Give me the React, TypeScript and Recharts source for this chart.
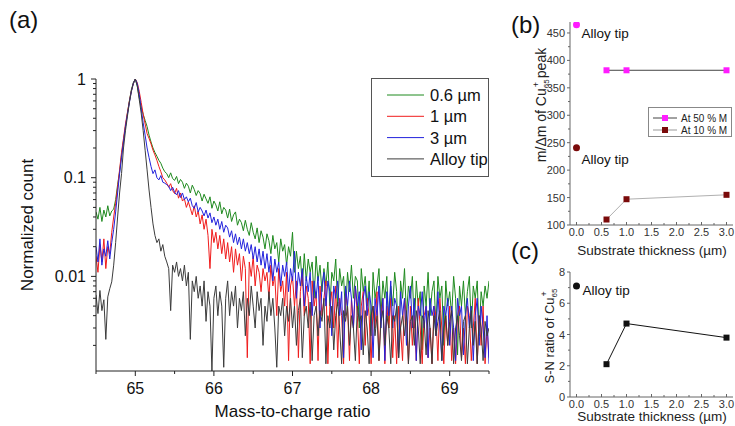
import { LineChart, Line, XAxis, YAxis, ComposedChart, Scatter } from "recharts";

const FONT = "'Liberation Sans', Arial, Helvetica, sans-serif";

// ---- panel (a): normalized mass spectra, sampled every 0.025 Da from 64.5 ----
const MZ_START = 64.5;
const MZ_STEP = 0.025;

const green06 = [
  0.045, 0.038, 0.05, 0.036, 0.047, 0.04, 0.052, 0.041, 0.046,
  0.048, 0.06, 0.085, 0.115, 0.17, 0.24, 0.33, 0.45, 0.6, 0.78, 0.92, 1.0,
  0.85, 0.65, 0.52, 0.44, 0.38, 0.33, 0.27, 0.23, 0.2, 0.18, 0.165, 0.15, 0.14, 0.125, 0.115, 0.11,
  0.1, 0.112, 0.098, 0.094, 0.103, 0.087, 0.096, 0.09, 0.078, 0.088,
  0.082, 0.07, 0.084, 0.076, 0.066, 0.074, 0.069, 0.058, 0.068, 0.061,
  0.055, 0.064, 0.049, 0.058, 0.053, 0.046, 0.057, 0.043, 0.05, 0.047,
  0.039, 0.048, 0.036, 0.042, 0.045, 0.033, 0.038, 0.035, 0.029, 0.037,
  0.03, 0.026, 0.035, 0.028, 0.024, 0.031, 0.022, 0.029, 0.025, 0.019,
  0.027, 0.023, 0.017, 0.026, 0.019, 0.022, 0.014, 0.024, 0.018, 0.021,
  0.013, 0.02, 0.016, 0.028, 0.011, 0.018, 0.012, 0.016, 0.008, 0.017,
  0.009, 0.015, 0.011, 0.014, 0.006, 0.016, 0.009, 0.013, 0.007, 0.012,
  0.008, 0.014, 0.005, 0.011, 0.009, 0.015, 0.005, 0.012, 0.008, 0.01,
  0.004, 0.011, 0.007, 0.013, 0.006, 0.01, 0.009, 0.003, 0.012, 0.007,
  0.01, 0.005, 0.009, 0.0025, 0.011, 0.006, 0.008, 0.012, 0.004, 0.009,
  0.006, 0.01, 0.003, 0.008, 0.005, 0.011, 0.007, 0.0015, 0.009, 0.006,
  0.012, 0.004, 0.008, 0.006, 0.01, 0.003, 0.009, 0.005, 0.007, 0.0018,
  0.008, 0.005, 0.011, 0.004, 0.007, 0.009, 0.003, 0.01, 0.006, 0.008,
  0.002, 0.009, 0.005, 0.007, 0.004, 0.01, 0.006, 0.0016, 0.008, 0.005,
  0.009, 0.004, 0.007, 0.01, 0.003, 0.008, 0.006, 0.009, 0.0025, 0.007,
  0.005, 0.008, 0.006, 0.009,
];

const red1 = [
  0.016, 0.011, 0.021, 0.014, 0.024, 0.012, 0.02, 0.017, 0.028,
  0.04, 0.055, 0.08, 0.12, 0.18, 0.25, 0.35, 0.46, 0.6, 0.76, 0.9, 1.0,
  0.92, 0.75, 0.58, 0.44, 0.35, 0.28, 0.25, 0.22, 0.19, 0.17, 0.15, 0.13, 0.115, 0.1, 0.095, 0.088,
  0.08, 0.087, 0.074, 0.069, 0.078, 0.062, 0.07, 0.058, 0.061, 0.05,
  0.057, 0.049, 0.042, 0.052, 0.04, 0.046, 0.034, 0.042, 0.03, 0.038,
  0.026, 0.012, 0.03, 0.022, 0.028, 0.019, 0.026, 0.017, 0.024, 0.015,
  0.022, 0.014, 0.02, 0.011, 0.019, 0.013, 0.017, 0.009, 0.016, 0.012,
  0.0015, 0.014, 0.01, 0.016, 0.008, 0.013, 0.011, 0.007, 0.012, 0.009,
  0.011, 0.006, 0.013, 0.008, 0.01, 0.004, 0.012, 0.007, 0.009, 0.005,
  0.011, 0.0014, 0.008, 0.01, 0.005, 0.009, 0.0015, 0.007, 0.011, 0.004,
  0.008, 0.006, 0.0013, 0.009, 0.005, 0.007, 0.0014, 0.008, 0.004, 0.006,
  0.009, 0.0013, 0.005, 0.007, 0.003, 0.008, 0.0015, 0.006, 0.004, 0.0013,
  0.007, 0.005, 0.0014, 0.006, 0.003, 0.008, 0.004, 0.0013, 0.005, 0.007,
  0.002, 0.006, 0.004, 0.0013, 0.005, 0.003, 0.007, 0.0014, 0.004, 0.006,
  0.0013, 0.005, 0.003, 0.006, 0.0015, 0.004, 0.0013, 0.005, 0.003, 0.0014,
  0.006, 0.004, 0.0013, 0.005, 0.002, 0.004, 0.0014, 0.006, 0.003, 0.0013,
  0.004, 0.005, 0.0015, 0.003, 0.0013, 0.005, 0.004, 0.0014, 0.006, 0.003,
  0.0013, 0.004, 0.002, 0.005, 0.0014, 0.003, 0.0013, 0.004, 0.005, 0.0015,
  0.003, 0.0013, 0.005, 0.004, 0.0014, 0.003, 0.006, 0.0013, 0.004, 0.002,
  0.005, 0.0013, 0.003, 0.0015,
];

const blue3 = [
  0.02, 0.014, 0.024, 0.013, 0.019, 0.016, 0.023, 0.015, 0.022,
  0.03, 0.045, 0.07, 0.11, 0.16, 0.23, 0.33, 0.44, 0.58, 0.75, 0.9, 1.0,
  0.9, 0.7, 0.5, 0.36, 0.27, 0.2, 0.16, 0.13, 0.11, 0.12, 0.1, 0.095, 0.105, 0.09, 0.088, 0.085,
  0.082, 0.074, 0.08, 0.071, 0.067, 0.074, 0.063, 0.07, 0.06, 0.064,
  0.057, 0.062, 0.052, 0.049, 0.056, 0.045, 0.05, 0.046, 0.041, 0.047,
  0.039, 0.044, 0.035, 0.04, 0.033, 0.038, 0.03, 0.036, 0.028, 0.033,
  0.031, 0.025, 0.029, 0.022, 0.027, 0.021, 0.025, 0.019, 0.024, 0.018,
  0.022, 0.017, 0.021, 0.015, 0.02, 0.014, 0.019, 0.013, 0.018, 0.012,
  0.017, 0.011, 0.016, 0.009, 0.015, 0.011, 0.014, 0.008, 0.013, 0.01,
  0.014, 0.007, 0.012, 0.009, 0.018, 0.006, 0.011, 0.008, 0.012, 0.005,
  0.01, 0.007, 0.011, 0.004, 0.009, 0.006, 0.01, 0.003, 0.008, 0.011,
  0.005, 0.009, 0.007, 0.0025, 0.008, 0.006, 0.009, 0.004, 0.007, 0.0015,
  0.008, 0.005, 0.009, 0.006, 0.003, 0.008, 0.005, 0.007, 0.0018, 0.006,
  0.008, 0.004, 0.007, 0.005, 0.0015, 0.006, 0.004, 0.008, 0.003, 0.006,
  0.0014, 0.007, 0.004, 0.009, 0.003, 0.006, 0.005, 0.0015, 0.007, 0.004,
  0.006, 0.002, 0.005, 0.008, 0.003, 0.006, 0.0014, 0.005, 0.004, 0.007,
  0.003, 0.005, 0.0015, 0.006, 0.004, 0.005, 0.0025, 0.007, 0.003, 0.0014,
  0.005, 0.004, 0.006, 0.002, 0.005, 0.003, 0.0014, 0.006, 0.004, 0.005,
  0.0016, 0.004, 0.006, 0.003, 0.005, 0.0014, 0.004, 0.006, 0.002, 0.005,
  0.003, 0.0015, 0.004, 0.0013,
];

const alloyTip = [
  0.0065, 0.0042, 0.0072, 0.0045, 0.0058, 0.0023, 0.0062, 0.0075, 0.0088, 0.013, 0.022,
  0.04, 0.07, 0.11, 0.2, 0.3, 0.42, 0.58, 0.75, 0.9, 1.0,
  0.85, 0.62, 0.45, 0.3, 0.19, 0.12, 0.075, 0.05, 0.034, 0.026,
  0.022, 0.024, 0.018, 0.021, 0.016, 0.014, 0.012, 0.0045, 0.013, 0.011,
  0.014, 0.01, 0.012, 0.009, 0.013, 0.008, 0.011, 0.0023, 0.009, 0.007,
  0.01, 0.006, 0.008, 0.005, 0.009, 0.0035, 0.007, 0.005, 0.0011, 0.006,
  0.008, 0.004, 0.007, 0.005, 0.0012, 0.006, 0.009, 0.004, 0.007, 0.005,
  0.008, 0.003, 0.006, 0.0045, 0.007, 0.0025, 0.006, 0.004, 0.008, 0.005,
  0.003, 0.007, 0.0045, 0.006, 0.002, 0.005, 0.0035, 0.007, 0.004, 0.006,
  0.003, 0.0012, 0.005, 0.004, 0.006, 0.0025, 0.005, 0.0035, 0.006, 0.003,
  0.005, 0.002, 0.0045, 0.006, 0.0015, 0.004, 0.005, 0.003, 0.0055, 0.0014,
  0.004, 0.005, 0.0025, 0.0045, 0.0035, 0.006, 0.0013, 0.004, 0.003, 0.005,
  0.0018, 0.004, 0.0055, 0.003, 0.0013, 0.0045, 0.0035, 0.005, 0.002, 0.004,
  0.003, 0.0014, 0.005, 0.0035, 0.004, 0.0016, 0.0045, 0.003, 0.0013, 0.004,
  0.005, 0.0025, 0.004, 0.0014, 0.0035, 0.0045, 0.002, 0.004, 0.003, 0.0013,
  0.004, 0.0035, 0.005, 0.0015, 0.003, 0.004, 0.0025, 0.0045, 0.0013, 0.0035,
  0.004, 0.002, 0.0045, 0.003, 0.0013, 0.004, 0.0035, 0.0016, 0.0045, 0.003,
  0.0013, 0.004, 0.0025, 0.0035, 0.0045, 0.0014, 0.003, 0.004, 0.002, 0.0035,
  0.0045, 0.0013, 0.003, 0.004, 0.0025, 0.0014, 0.0035, 0.004, 0.0013, 0.003,
  0.0045, 0.002, 0.0035, 0.0013, 0.004, 0.003, 0.0014, 0.0035, 0.0025, 0.003,
];

const mz = green06.map((_, i) => Math.round((MZ_START + i * MZ_STEP) * 1000) / 1000);
const spectra = mz.map((m, i) => ({ mz: m, g: green06[i], r: red1[i], b: blue3[i], k: alloyTip[i] }));

const SERIES = [
  { key: "g", name: "0.6 \u00b5m", color: "#1f8a1f" },
  { key: "r", name: "1 \u00b5m", color: "#f01c1c" },
  { key: "b", name: "3 \u00b5m", color: "#2222dc" },
  { key: "k", name: "Alloy tip", color: "#3c3c3c" },
];

const xTicksA = [64.5, 65, 65.5, 66, 66.5, 67, 67.5, 68, 68.5, 69, 69.5];
const yTicksA = [
  0.002, 0.003, 0.004, 0.005, 0.006, 0.007, 0.008, 0.009, 0.01,
  0.02, 0.03, 0.04, 0.05, 0.06, 0.07, 0.08, 0.09, 0.1,
  0.2, 0.3, 0.4, 0.5, 0.6, 0.7, 0.8, 0.9, 1,
];

// ---- panels (b) and (c) ----
const thickness = [0.6, 1.0, 3.0];
const res50 = [382, 382, 382];
const res10 = [110, 147, 155];
const alloyRes50 = 465;
const alloyRes10 = 241;
const snRatio = [2.1, 4.7, 3.8];
const alloySn = 7.1;

const xTicksBC = [0, 0.25, 0.5, 0.75, 1, 1.25, 1.5, 1.75, 2, 2.25, 2.5, 2.75, 3];
const yTicksB = [100, 125, 150, 175, 200, 225, 250, 275, 300, 325, 350, 375, 400, 425, 450];
const yTicksC = [0, 1, 2, 3, 4, 5, 6, 7, 8];

const MAGENTA = "#ff1cff";
const DARKRED = "#7a0a0a";

const res50Pts = thickness.map((x, i) => ({ x, y: res50[i] }));
const res10Pts = thickness.map((x, i) => ({ x, y: res10[i] }));
const snPts = thickness.map((x, i) => ({ x, y: snRatio[i] }));

function isDecade(v: number) {
  const lg = Math.log10(v);
  return Math.abs(lg - Math.round(lg)) < 1e-6;
}

function TickAX(props: any) {
  const { x, y, payload } = props;
  const v = payload.value;
  const major = Math.abs(v - Math.round(v)) < 1e-6;
  return (
    <g>
      <line x1={x} x2={x} y1={y} y2={y + (major ? 5 : 3)} stroke="#222" />
      {major && (
        <text x={x} y={y + 23} textAnchor="middle" fontSize={16} fontFamily={FONT} fill="#111">
          {v}
        </text>
      )}
    </g>
  );
}

function TickAY(props: any) {
  const { x, y, payload } = props;
  const v = payload.value;
  const major = isDecade(v);
  return (
    <g>
      <line x1={x - (major ? 5 : 3)} x2={x} y1={y} y2={y} stroke="#222" />
      {major && (
        <text x={x - 10} y={y + 5.5} textAnchor="end" fontSize={16} fontFamily={FONT} fill="#111">
          {String(v)}
        </text>
      )}
    </g>
  );
}

function TickSmallX(props: any) {
  const { x, y, payload } = props;
  const v = payload.value;
  const major = Math.abs(v * 2 - Math.round(v * 2)) < 1e-6;
  return (
    <g>
      <line x1={x} x2={x} y1={y} y2={y - (major ? 3 : 2)} stroke="#666" />
      {major && (
        <text x={x} y={y + 11} textAnchor="middle" fontSize={11} fontFamily={FONT} fill="#333">
          {v.toFixed(1)}
        </text>
      )}
    </g>
  );
}

function makeSmallYTick(step: number) {
  return function TickSmallY(props: any) {
    const { x, y, payload } = props;
    const v = payload.value;
    const major = v % step === 0;
    return (
      <g>
        <line x1={x - (major ? 3 : 2)} x2={x} y1={y} y2={y} stroke="#666" />
        {major && (
          <text x={x - 5} y={y + 4} textAnchor="end" fontSize={11} fontFamily={FONT} fill="#333">
            {v}
          </text>
        )}
      </g>
    );
  };
}

const TickBY = makeSmallYTick(50);
const TickCY = makeSmallYTick(2);

function square(color: string) {
  return (p: any) => <rect x={p.cx - 3} y={p.cy - 3} width={6} height={6} fill={color} />;
}

function tipDot(color: string, dx: number, dy: number) {
  return (p: any) => (
    <g>
      <circle cx={p.cx} cy={p.cy} r={3.5} fill={color} />
      <text x={p.cx + dx} y={p.cy + dy} fontSize={13.5} fontFamily={FONT} fill="#111">
        Alloy tip
      </text>
    </g>
  );
}

export default function App() {
  return (
    <div style={{ position: "absolute", left: 0, top: 0, width: 735, height: 426, background: "#fff", overflow: "hidden" }}>
      <div style={{ position: "absolute", left: 0, top: 0 }}>
        <LineChart width={500} height={426} data={spectra} margin={{ top: 79, right: 11, bottom: 0, left: 0 }}>
          <XAxis
            dataKey="mz"
            type="number"
            domain={[64.5, 69.5]}
            ticks={xTicksA}
            interval={0}
            height={55}
            tickSize={0}
            tickMargin={0}
            tickLine={false}
            tick={<TickAX />}
            stroke="#222"
            allowDataOverflow
          />
          <YAxis
            type="number"
            scale="log"
            domain={[0.0011, 1]}
            ticks={yTicksA}
            interval={0}
            width={96}
            tickSize={0}
            tickMargin={0}
            tickLine={false}
            tick={<TickAY />}
            stroke="#222"
            allowDataOverflow
          />
          {SERIES.map((s) => (
            <Line
              key={s.key}
              dataKey={s.key}
              name={s.name}
              stroke={s.color}
              strokeWidth={1}
              dot={false}
              type="linear"
              isAnimationActive={false}
            />
          ))}
        </LineChart>
      </div>

      <div style={{ position: "absolute", left: 500, top: 0 }}>
        <ComposedChart width={235} height={250} margin={{ top: 22, right: 2, bottom: 0, left: 0 }}>
          <XAxis
            dataKey="x"
            type="number"
            domain={[-0.13, 3.13]}
            ticks={xTicksBC}
            interval={0}
            height={25}
            tickSize={0}
            tickMargin={0}
            tickLine={false}
            tick={<TickSmallX />}
            stroke="#666"
            allowDataOverflow
          />
          <YAxis
            dataKey="y"
            type="number"
            domain={[100, 470]}
            ticks={yTicksB}
            interval={0}
            width={70}
            tickSize={0}
            tickMargin={0}
            tickLine={false}
            tick={<TickBY />}
            stroke="#666"
            allowDataOverflow
          />
          <Scatter
            name="At 50 % M"
            data={res50Pts}
            line={{ stroke: "#444", strokeWidth: 1 }}
            lineType="joint"
            shape={square(MAGENTA)}
            isAnimationActive={false}
          />
          <Scatter
            name="At 10 % M"
            data={res10Pts}
            line={{ stroke: "#b0b0b0", strokeWidth: 1 }}
            lineType="joint"
            shape={square(DARKRED)}
            isAnimationActive={false}
          />
          <Scatter data={[{ x: 0, y: alloyRes50 }]} shape={tipDot(MAGENTA, 5, 13)} isAnimationActive={false} />
          <Scatter data={[{ x: 0, y: alloyRes10 }]} shape={tipDot(DARKRED, 5, 16)} isAnimationActive={false} />
        </ComposedChart>
      </div>

      <div style={{ position: "absolute", left: 500, top: 250 }}>
        <ComposedChart width={235} height={176} margin={{ top: 22, right: 2, bottom: 0, left: 0 }}>
          <XAxis
            dataKey="x"
            type="number"
            domain={[-0.13, 3.13]}
            ticks={xTicksBC}
            interval={0}
            height={29}
            tickSize={0}
            tickMargin={0}
            tickLine={false}
            tick={<TickSmallX />}
            stroke="#666"
            allowDataOverflow
          />
          <YAxis
            dataKey="y"
            type="number"
            domain={[0, 8]}
            ticks={yTicksC}
            interval={0}
            width={70}
            tickSize={0}
            tickMargin={0}
            tickLine={false}
            tick={<TickCY />}
            stroke="#666"
            allowDataOverflow
          />
          <Scatter
            data={snPts}
            line={{ stroke: "#111", strokeWidth: 1 }}
            lineType="joint"
            shape={square("#111")}
            isAnimationActive={false}
          />
          <Scatter data={[{ x: 0, y: alloySn }]} shape={tipDot("#111", 6, 9)} isAnimationActive={false} />
        </ComposedChart>
      </div>

      <svg
        width={735}
        height={426}
        style={{ position: "absolute", left: 0, top: 0, pointerEvents: "none" }}
        fontFamily={FONT}
      >
        <text x={9} y={28} fontSize={24} fill="#111">(a)</text>
        <text x={511} y={33} fontSize={24} fill="#111">(b)</text>
        <text x={511} y={259} fontSize={24} fill="#111">(c)</text>

        <text transform="translate(33,225) rotate(-90)" textAnchor="middle" fontSize={17} fill="#111">
          Normalized count
        </text>
        <text x={292.5} y={417} textAnchor="middle" fontSize={17} fill="#111">
          Mass-to-charge ratio
        </text>

        <rect x={371.5} y={78.5} width={117} height={98} fill="#fff" stroke="#555" />
        {SERIES.map((s, i) => (
          <g key={s.key}>
            <line x1={387} x2={424} y1={95 + i * 21.3} y2={95 + i * 21.3} stroke={s.color} strokeWidth={1} />
            <text x={430} y={95 + i * 21.3 + 6} fontSize={16.5} fill="#111">
              {s.name}
            </text>
          </g>
        ))}

        <text transform="translate(546,105) rotate(-90)" textAnchor="middle" fontSize={14} fill="#222">
          <tspan>m/{"\u0394"}m of Cu</tspan>
          <tspan fontSize={8} dy={3}>65</tspan>
          <tspan fontSize={9} dx={-8} dy={-10}>+</tspan>
          <tspan fontSize={14} dy={7}> peak</tspan>
        </text>
        <text x={652} y={255} textAnchor="middle" fontSize={13.5} fill="#222">
          Substrate thickness ({"\u00b5"}m)
        </text>

        <rect x={648.5} y={107.5} width={83} height={29} fill="#fff" stroke="#888" />
        <line x1={653} x2={677} y1={118} y2={118} stroke="#444" />
        <rect x={662} y={115} width={6} height={6} fill={MAGENTA} />
        <text x={681} y={121.5} fontSize={10} fill="#222">At 50 % M</text>
        <line x1={653} x2={677} y1={130} y2={130} stroke="#999" />
        <rect x={662} y={127} width={6} height={6} fill={DARKRED} />
        <text x={681} y={133.5} fontSize={10} fill="#222">At 10 % M</text>

        <text transform="translate(554,336) rotate(-90)" textAnchor="middle" fontSize={13} fill="#222">
          <tspan>S-N ratio of Cu</tspan>
          <tspan fontSize={8} dy={3}>65</tspan>
          <tspan fontSize={9} dx={-8} dy={-10}>+</tspan>
        </text>
        <text x={652} y={421} textAnchor="middle" fontSize={13.5} fill="#222">
          Substrate thickness ({"\u00b5"}m)
        </text>
      </svg>
    </div>
  );
}
